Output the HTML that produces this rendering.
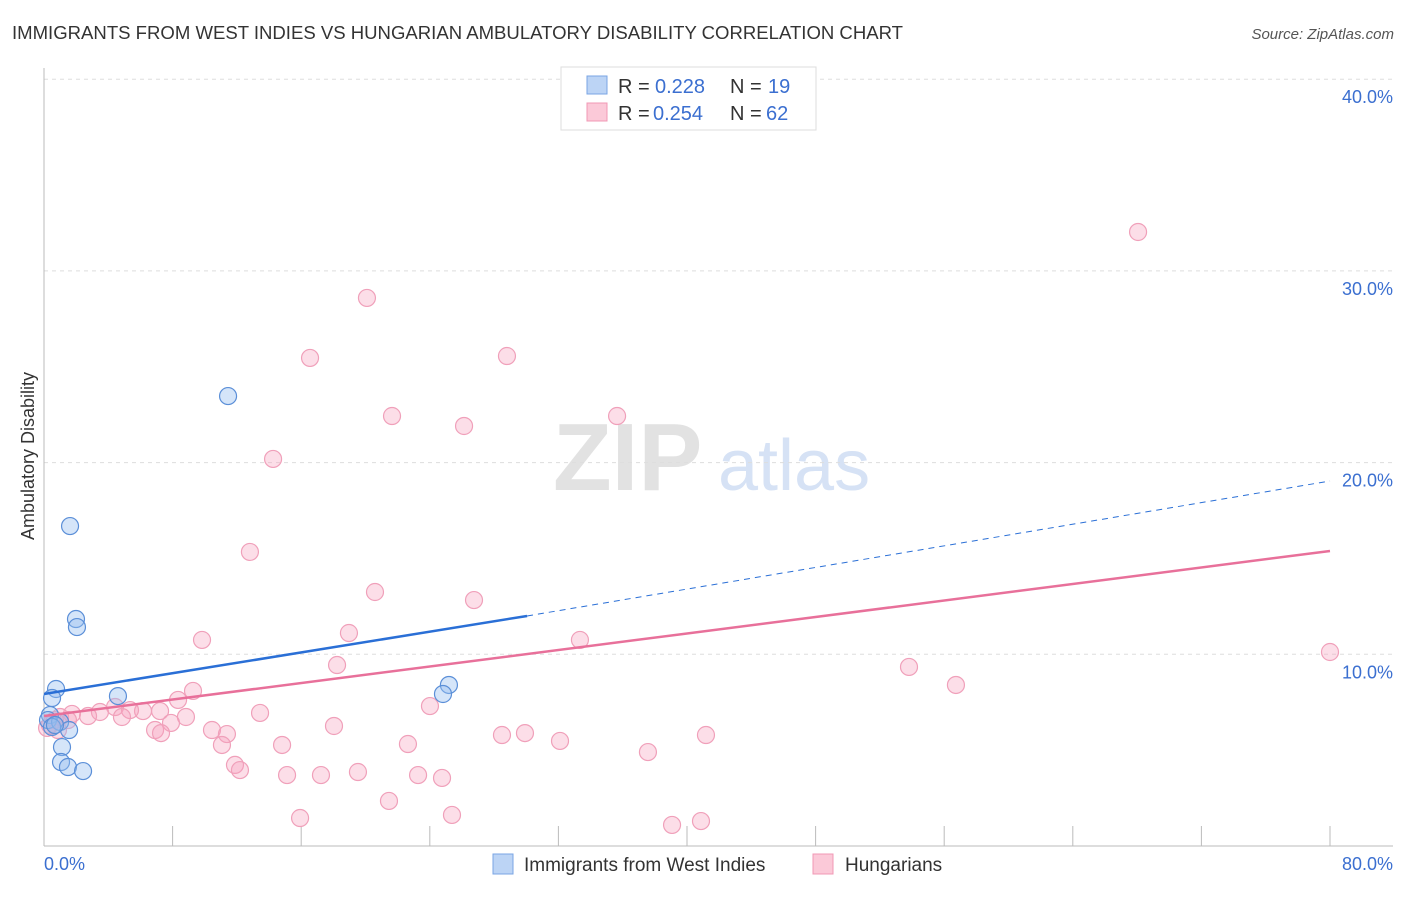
<!DOCTYPE html>
<html><head><meta charset="utf-8"><style>
body{margin:0;background:#fff;font-family:"Liberation Sans",sans-serif}
svg text{font-family:"Liberation Sans",sans-serif}
</style></head><body>
<svg width="1406" height="892" xmlns="http://www.w3.org/2000/svg" id="c">
<text x="12" y="39" font-size="18" fill="#333" textLength="891" lengthAdjust="spacingAndGlyphs">IMMIGRANTS FROM WEST INDIES VS HUNGARIAN AMBULATORY DISABILITY CORRELATION CHART</text>
<text x="1394" y="39" font-size="15" fill="#555" text-anchor="end" font-style="italic">Source: ZipAtlas.com</text>
<text x="553" y="490" font-size="96" fill="#e2e2e2" font-family="Liberation Serif" font-weight="bold">ZIP</text>
<text x="718" y="490" font-size="72" fill="#d6e2f5">atlas</text>
<text transform="translate(34,456) rotate(-90)" font-size="18" fill="#333" text-anchor="middle">Ambulatory Disability</text>
<g id="grid"></g><g id="marks"></g>
<g>
<rect x="561" y="67" width="255" height="63" fill="#fff" stroke="#ddd"/>
<rect x="587" y="76" width="20" height="18" fill="#bcd4f5" stroke="#7aa5e4"/>
<rect x="587" y="103" width="20" height="18" fill="#fbc9d8" stroke="#f098b5"/>
<text x="618" y="93" font-size="20" fill="#333">R =</text>
<text x="655" y="93" font-size="20" fill="#3b6fd0">0.228</text>
<text x="730" y="93" font-size="20" fill="#333">N =</text>
<text x="768" y="93" font-size="20" fill="#3b6fd0">19</text>
<text x="618" y="120" font-size="20" fill="#333">R =</text>
<text x="653" y="120" font-size="20" fill="#3b6fd0">0.254</text>
<text x="730" y="120" font-size="20" fill="#333">N =</text>
<text x="766" y="120" font-size="20" fill="#3b6fd0">62</text>
</g>
<g>
<rect x="493" y="854" width="20" height="20" fill="#bcd4f5" stroke="#7aa5e4"/>
<text x="524" y="871" font-size="19" fill="#333">Immigrants from West Indies</text>
<rect x="813" y="854" width="20" height="20" fill="#fbc9d8" stroke="#f098b5"/>
<text x="845" y="871" font-size="19" fill="#333">Hungarians</text>
</g>
</svg>
<script>
const yTicks=[10,20,30,40];
const yTickLabels=["10.0%","20.0%","30.0%","40.0%"];
const xTicks=[0,8,16,24,32,40,48,56,64,72,80];
const blueX=[11.45,1.62,1.99,2.05,0.75,0.5,4.6,25.19,24.82,0.37,0.25,1.0,0.5,1.56,1.12,1.06,1.49,2.43,0.68];
const blueY=[23.47,16.69,11.84,11.42,8.19,7.72,7.82,8.4,7.93,6.83,6.57,6.47,6.21,6.05,5.16,4.38,4.12,3.91,6.31];
const pinkX=[68.06,20.09,16.55,28.8,21.65,35.65,26.13,14.25,12.81,20.59,26.75,9.83,18.97,33.34,80,53.81,18.23,56.73,9.27,8.34,6.16,4.42,5.35,3.48,2.74,1.74,1.0,0.68,0.37,4.85,7.22,8.83,7.9,6.91,7.28,10.45,11.38,13.44,18.04,24.01,28.49,29.92,32.1,22.64,11.07,14.81,11.88,12.19,15.12,17.23,19.53,23.27,24.76,37.57,41.18,21.46,25.38,15.93,39.07,40.87,0.87,0.19,1.49];
const pinkY=[32.03,28.59,25.46,25.56,22.43,22.43,21.91,20.19,15.34,13.25,12.83,10.75,11.11,10.75,10.12,9.34,9.44,8.4,8.09,7.62,7.04,7.25,7.09,6.99,6.78,6.89,6.73,6.57,6.31,6.73,7.04,6.73,6.42,6.05,5.89,6.05,5.84,6.94,6.26,7.3,5.79,5.89,5.48,5.32,5.27,5.27,4.23,3.96,3.7,3.7,3.86,3.7,3.55,4.9,5.79,2.35,1.62,1.46,1.1,1.3,6.05,6.16,6.57];
const blueTrend=[7.93,12.0,19.04];
const blueTrendX=[0,30.05,80];
const pinkTrend=[6.78,15.39];
const pinkTrendX=[0,80];
const X=v=>44+v/80*1286, Y=v=>846-v*19.17;
const NS="http://www.w3.org/2000/svg";
function mk(t,a,p){const e=document.createElementNS(NS,t);for(const k in a)e.setAttribute(k,a[k]);p.appendChild(e);return e;}
const g=document.getElementById('grid'),m=document.getElementById('marks');
yTicks.forEach((v,i)=>{
 const l=mk('line',{x1:44,x2:1393,y1:Y(v),y2:Y(v),stroke:'#ddd','stroke-dasharray':'4,4'},g);
 
 
 const t=mk('text',{x:1393,y:Y(v)+24,'font-size':18,fill:'#3b6fd0','text-anchor':'end'},g);
 t.textContent=yTickLabels[i];
 
 
});
const ax=mk('line',{x1:44,x2:44,y1:68,y2:846,stroke:'#bbb'},g);


const bx=mk('line',{x1:44,x2:1393,y1:846,y2:846,stroke:'#bbb'},g);


xTicks.forEach(v=>{
 const l=mk('line',{x1:X(v),x2:X(v),y1:826,y2:846,stroke:'#bbb'},g);
 
 
});
const t0=mk('text',{x:44,y:870,'font-size':18,fill:'#3b6fd0'},g);t0.textContent='0.0%';


const t1=mk('text',{x:1393,y:870,'font-size':18,fill:'#3b6fd0','text-anchor':'end'},g);t1.textContent='80.0%';


pinkX.forEach((x,i)=>{
 const c=mk('circle',{cx:X(x),cy:Y(pinkY[i]),r:8.5,fill:'rgba(246,160,188,0.35)',stroke:'#f0a0ba','stroke-width':1.2},m);
 
 
});
blueX.forEach((x,i)=>{
 const c=mk('circle',{cx:X(x),cy:Y(blueY[i]),r:8.5,fill:'rgba(150,190,240,0.4)',stroke:'#5b8fd8','stroke-width':1.2},m);
 
 
});
const bl=mk('line',{x1:X(blueTrendX[0]),y1:Y(blueTrend[0]),x2:X(blueTrendX[1]),y2:Y(blueTrend[1]),stroke:'#2a6fd6','stroke-width':2.5},m);


const bd=mk('line',{x1:X(blueTrendX[1]),y1:Y(blueTrend[1]),x2:X(blueTrendX[2]),y2:Y(blueTrend[2]),stroke:'#2a6fd6','stroke-width':1,'stroke-dasharray':'6,5'},m);


const pl=mk('line',{x1:X(pinkTrendX[0]),y1:Y(pinkTrend[0]),x2:X(pinkTrendX[1]),y2:Y(pinkTrend[1]),stroke:'#e8709a','stroke-width':2.5},m);


</script>
</body></html>
